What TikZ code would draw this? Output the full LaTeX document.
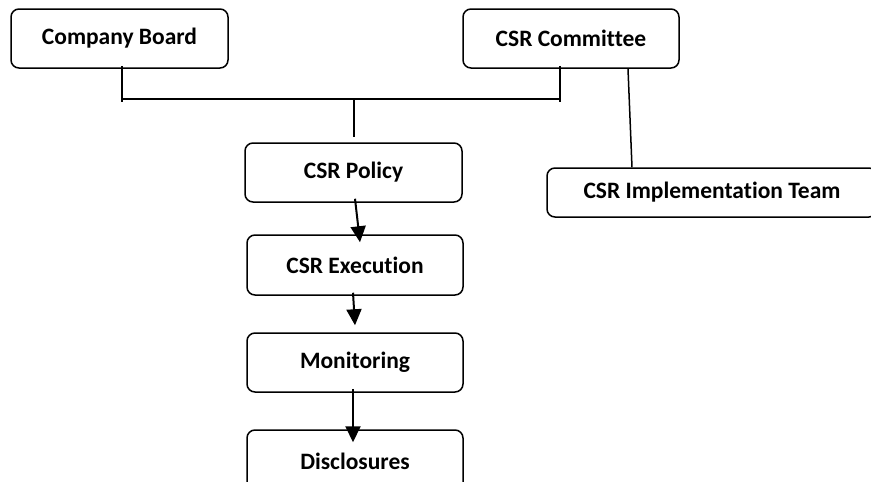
\documentclass[tikz,border=0pt]{standalone}
\usepackage{fontspec}
\setmainfont{Carlito}[Ligatures=NoCommon]
\usetikzlibrary{arrows.meta}
\begin{document}
\begin{tikzpicture}[x=1pt,y=-1pt,
  box/.style={draw, line width=1.5pt, rounded corners=8pt, minimum width=216pt, minimum height=59pt, inner sep=0pt, font=\fontsize{23.5}{28}\selectfont\bfseries},
  conn/.style={line width=1.5pt},
  arr/.style={line width=2pt, -{Triangle[width=15pt,length=16pt]}}]
\useasboundingbox (0,0) rectangle (871,482);
\node[box, minimum width=217pt] (cb) at (119.5,38.5) {Company Board};
\node[box] (cc) at (571,38.5) {CSR Committee};
\node[box, minimum width=330pt, minimum height=49pt] (it) at (712,192.5) {CSR Implementation Team};
\node[box, minimum width=217pt] (cp) at (353.5,172.5) {CSR Policy};
\node[box, minimum height=60pt] (ce) at (355,265) {CSR Execution};
\node[box] (mo) at (355,362.5) {Monitoring};
\node[box, minimum height=62pt] (di) at (355,461) {Disclosures};
\coordinate (jl) at (122,102);
\coordinate (jr) at (560,102);
\coordinate (hl) at (122,99);
\coordinate (hr) at (560,99);
\coordinate (hm) at (354,99);
\coordinate (hb) at (354,137);
\draw[conn] (cb.south -| jl) ++(0,-3) -- (jl);
\draw[conn] (cc.south -| jr) ++(0,-3) -- (jr);
\draw[conn] (hl) -- (hr);
\draw[conn] (hm) -- (hb);
\draw[conn] (cc.south -| 628,0) -- (it.north -| 632,0);
\draw[arr] ([xshift=1.5pt,yshift=4pt]cp.south) -- ([xshift=5pt,yshift=-8pt]ce.north);
\draw[arr] ([xshift=-2pt,yshift=3pt]ce.south) -- ([yshift=7pt]mo.north);
\draw[arr] ([xshift=-2pt,yshift=4pt]mo.south) -- ([xshift=-2pt,yshift=-13pt]di.north);
\end{tikzpicture}
\end{document}
